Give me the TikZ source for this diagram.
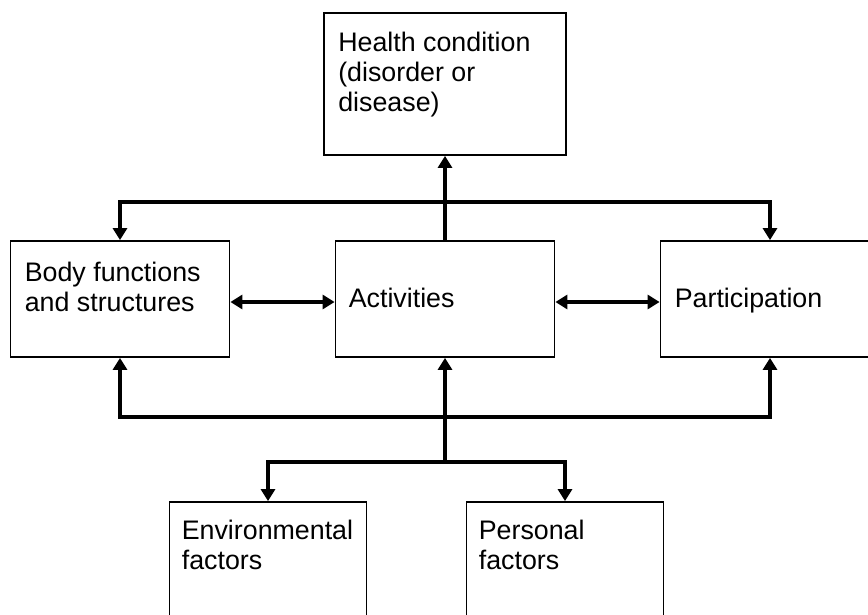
\documentclass[tikz,border=0pt]{standalone}
\usepackage{fontspec}
\setmainfont{Liberation Sans}
\usetikzlibrary{arrows.meta}
\begin{document}
\begin{tikzpicture}[x=1pt, y=1pt, >={Triangle[length=12pt,width=14pt]},
    box/.style={draw, line width=1.8pt, inner sep=0pt},
    txt/.style={anchor=base west, align=left, inner sep=0pt, font=\fontsize{26.8}{30}\selectfont},
    link/.style={line width=3.3pt}]
    \useasboundingbox (0,0) rectangle (868,-615);
    % boxes
    \node[box, minimum width=242, minimum height=142] (health) at (445,-84) {};
    \node[box, minimum width=219, minimum height=116] (body) at (120,-299) {};
    \node[box, minimum width=219, minimum height=116] (act) at (445,-299) {};
    \node[box, minimum width=219, minimum height=116] (part) at (770,-299) {};
    \node[box, minimum width=197, minimum height=140] (env) at (268,-572) {};
    \node[box, minimum width=197, minimum height=140] (pers) at (565,-572) {};
    % texts (base anchor = last line)
    \node[txt] (healthtxt) at ([shift={(15,-99)}]health.north west) {Health condition\\(disorder or\\disease)};
    \node[txt] (bodytxt) at ([shift={(15,-71)}]body.north west) {Body functions\\and structures};
    \node[txt] (acttxt) at ([shift={(14,-67)}]act.north west) {Activities};
    \node[txt] (parttxt) at ([shift={(15,-67)}]part.north west) {Participation};
    \node[txt] (envtxt) at ([shift={(13,-68)}]env.north west) {Environmental\\factors};
    \node[txt] (perstxt) at ([shift={(13,-68)}]pers.north west) {Personal\\factors};
    % connectors
    \coordinate (top) at (445,-202);
    \coordinate (bot) at (445,-417);
    \coordinate (low) at (445,-462);
    \draw[link,->] (act.north) -- (health.south);
    \draw[link,->] (top) -| (body.north);
    \draw[link,->] (top) -| (part.north);
    \draw[link,<->] ([yshift=-3]body.east) -- ([yshift=-3]act.west);
    \draw[link,<->] ([yshift=-3]act.east) -- ([yshift=-3]part.west);
    \draw[link,->] (low) -- (act.south);
    \draw[link,->] (bot) -| (body.south);
    \draw[link,->] (bot) -| (part.south);
    \draw[link,->] (low) -| (env.north);
    \draw[link,->] (low) -| (pers.north);
\end{tikzpicture}
\end{document}
